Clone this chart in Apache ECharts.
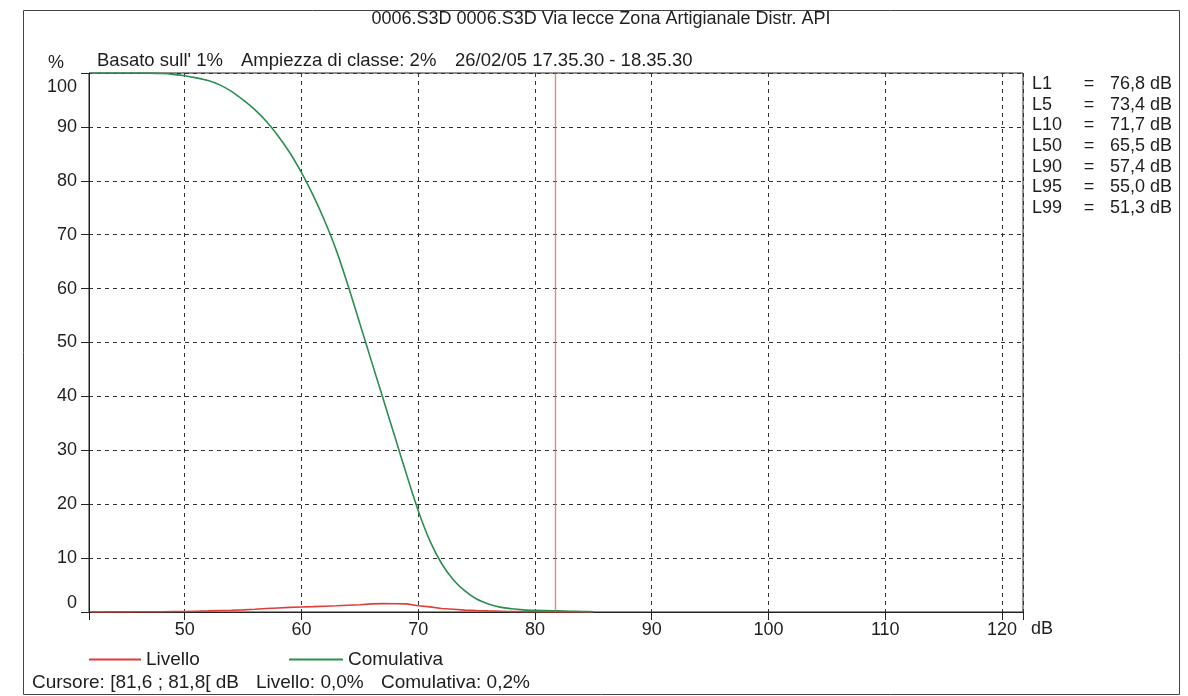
<!DOCTYPE html>
<html>
<head>
<meta charset="utf-8">
<script src="https://cdn.jsdelivr.net/npm/echarts@6/dist/echarts.min.js"></script>
<style>
  html, body { margin: 0; padding: 0; background: #ffffff; }
  #chart { width: 1188px; height: 696px; }
</style>
</head>
<body>
<div id="chart"></div>
<script>
// ---- data ----
var titleText = '0006.S3D 0006.S3D Via lecce Zona Artigianale Distr. API';
var headerParts = ["Basato sull' 1%", 'Ampiezza di classe: 2%', '26/02/05 17.35.30 - 18.35.30'];
var cursorParts = ['Cursore: [81,6 ; 81,8[ dB', 'Livello: 0,0%', 'Comulativa: 0,2%'];
var cursorDb = 81.7;

var xMin = 41.8, xMax = 121.8;
var xTicks = [50, 60, 70, 80, 90, 100, 110, 120];
var levelsDb = [42,43,44,45,46,47,48,49,50,51,52,53,54,55,56,57,58,59,60,61,62,63,64,65,66,67,68,69,70,71,72,73,74,75,76,77,78,79,80,81,82,83,84,85];
var livello = [0,0,0.02,0.03,0.04,0.05,0.06,0.08,0.1,0.15,0.2,0.27,0.33,0.4,0.52,0.65,0.75,0.85,0.93,1.0,1.08,1.15,1.25,1.35,1.5,1.55,1.53,1.5,1.17,0.95,0.65,0.5,0.35,0.27,0.2,0.15,0.1,0.07,0.05,0.03,0.02,0.01,0,0];
var comulativa = [100,100,100,100,100,99.97,99.9,99.75,99.5,99.1,98.6,97.8,96.6,95.0,93.2,91.0,88.3,85.2,81.5,77.3,72.5,67.0,60.5,53.5,46.5,39.5,32.5,25.5,18.8,13.2,9.0,6.0,3.9,2.4,1.5,0.9,0.6,0.4,0.3,0.25,0.2,0.15,0.1,0.05];

var statNames = ['L1', 'L5', 'L10', 'L50', 'L90', 'L95', 'L99'];
var statValues = ['76,8 dB', '73,4 dB', '71,7 dB', '65,5 dB', '57,4 dB', '55,0 dB', '51,3 dB'];

// ---- build ----
var FONT = 'Liberation Sans, Arial, sans-serif';
var TXT = '#1e1e1e';
function pairs(xs, ys) { return xs.map(function (x, i) { return [x, ys[i]]; }); }
function txt(s, x, y, size, align) {
  return { type: 'text', x: x, y: y, silent: true,
    style: { text: s, font: size + 'px ' + FONT, fill: TXT, textAlign: align || 'left', textVerticalAlign: 'middle' } };
}

var graphics = [
  { type: 'rect', shape: { x: 23.5, y: 10.5, width: 1156, height: 684 }, style: { fill: 'none', stroke: '#444', lineWidth: 1 }, silent: true },
  txt(titleText, 601, 19, 18, 'center'),
  txt('%', 56, 63, 18, 'center'),
  txt(headerParts[0], 97, 61, 18.5),
  txt(headerParts[1], 241, 61, 18.5),
  txt(headerParts[2], 455, 61, 18.5),
  txt('dB', 1031, 629, 18),
  txt(cursorParts[0], 32, 683, 19),
  txt(cursorParts[1], 256, 683, 19),
  txt(cursorParts[2], 381, 683, 19)
];
statNames.forEach(function (n, i) {
  var y = 84 + i * 20.7;
  graphics.push(txt(n, 1032, y, 18));
  graphics.push(txt('=', 1089, y, 18, 'center'));
  graphics.push(txt(statValues[i], 1172, y, 18, 'right'));
});

var chart = echarts.init(document.getElementById('chart'), null, { renderer: 'canvas' });
chart.setOption({
  backgroundColor: '#ffffff',
  animation: false,
  textStyle: { fontFamily: FONT },
  grid: { left: 89, right: 165, top: 73, bottom: 84, show: true, borderColor: '#222', borderWidth: 1, backgroundColor: 'transparent' },
  legend: [
    { left: 84, top: 645, data: ['Livello'], icon: 'rect', itemWidth: 52, itemHeight: 2, textStyle: { fontSize: 19, color: TXT, fontFamily: FONT } },
    { left: 284, top: 645, data: ['Comulativa'], icon: 'rect', itemWidth: 54, itemHeight: 2, textStyle: { fontSize: 19, color: TXT, fontFamily: FONT } }
  ],
  xAxis: {
    type: 'value', min: xMin, max: xMax, splitNumber: 8,
    axisLine: { onZero: false, lineStyle: { color: '#222', width: 1 } },
    axisTick: { show: true, length: 8, lineStyle: { color: '#222', width: 1 } },
    axisLabel: { fontSize: 18, color: TXT, margin: 9, fontFamily: FONT, customValues: xTicks },
    splitLine: { show: true, lineStyle: { color: '#333', type: [4, 4], width: 1 } }
  },
  yAxis: {
    type: 'value', min: 0, max: 100, interval: 10,
    axisLine: { show: true, lineStyle: { color: '#222', width: 1 } },
    axisTick: { show: true, length: 8, lineStyle: { color: '#222' } },
    axisLabel: {
      fontSize: 18, color: TXT, margin: 12, fontFamily: FONT,
      formatter: function (v) {
        if (v === 100) return '{top|100}';
        if (v === 0) return '{bot|0}';
        return String(v);
      },
      rich: {
        top: { fontSize: 18, color: TXT, fontFamily: FONT, padding: [28, 0, 0, 0] },
        bot: { fontSize: 18, color: TXT, fontFamily: FONT, padding: [0, 0, 18, 0] }
      }
    },
    splitLine: { show: true, lineStyle: { color: '#333', type: [4, 4], width: 1 } }
  },
  graphic: graphics,
  series: [
    {
      name: 'Livello', type: 'line', data: pairs(levelsDb, livello), symbol: 'none',
      lineStyle: { color: '#dd3f36', width: 1.6 }, itemStyle: { color: '#dd3f36' },
      markLine: {
        silent: true, symbol: 'none', label: { show: false },
        lineStyle: { color: '#e8603c', width: 1.4, type: 'solid', opacity: 0.75 },
        emphasis: { disabled: true },
        data: [{ xAxis: cursorDb }]
      }
    },
    {
      name: 'Comulativa', type: 'line', data: pairs(levelsDb, comulativa), symbol: 'none', smooth: 0.3,
      lineStyle: { color: '#2b8f4e', width: 1.6 }, itemStyle: { color: '#2b8f4e' }
    }
  ]
});
</script>
</body>
</html>
